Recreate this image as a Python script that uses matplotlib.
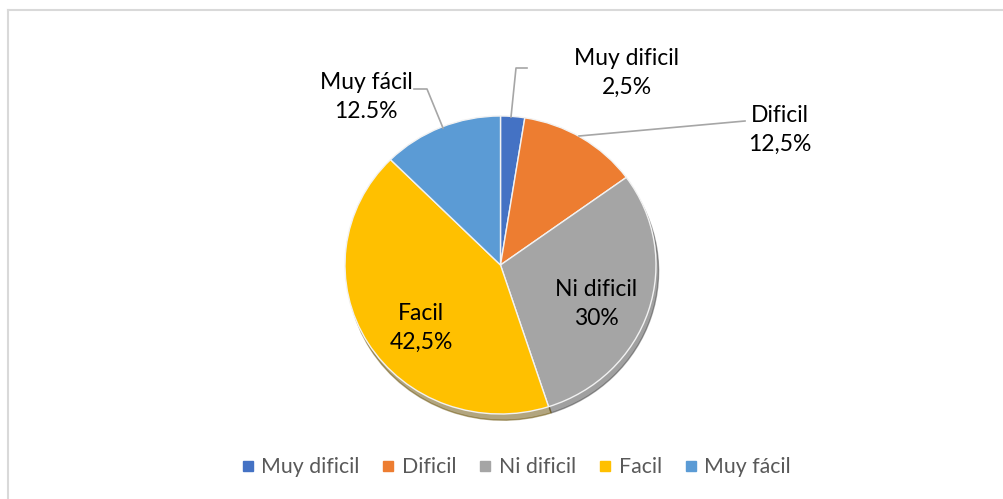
import matplotlib
matplotlib.use("Agg")
import matplotlib.pyplot as plt
from matplotlib.lines import Line2D

categories = ["Muy dificil", "Dificil", "Ni dificil", "Facil", "Muy fácil"]
values = [2.5, 12.5, 30, 42.5, 12.5]
value_labels = ["2,5%", "12,5%", "30%", "42,5%", "12.5%"]
colors = ["#4472C4", "#ED7D31", "#A5A5A5", "#FFC000", "#5B9BD5"]

plt.rcParams['font.family'] = ['Lato', 'DejaVu Sans']

W, H = 1004, 499
fig = plt.figure(figsize=(W / 100, H / 100), dpi=100)

# frame
fig.add_artist(Line2D([8 / W, 8 / W], [0, 1 - 10 / H], color="#D9D9D9", lw=1.5))
fig.add_artist(Line2D([8 / W, 1], [1 - 10 / H, 1 - 10 / H], color="#D9D9D9", lw=1.5))

cx, cy, rx, ry = 500.5, 265, 155.5, 149
ax = fig.add_axes([(cx - rx) / W, (H - cy - ry) / H, 2 * rx / W, 2 * ry / H])
wedges, _ = ax.pie(values, colors=colors, startangle=90, counterclock=False,
                   radius=1, wedgeprops=dict(edgecolor="#F2F2F2", linewidth=1),
                   shadow=dict(ox=0.012, oy=-0.03, shade=0.6))
ax.set_aspect('auto')
ax.set_xlim(-1, 1)
ax.set_ylim(-1, 1)


def P(px, py):
    return ((px - cx) / rx, (cy - py) / ry)


fs = 16.5
label_pos = [(627, 73), (780, 130), (596, 304), (421, 328), (366, 97)]
for cat, vl, (px, py) in zip(categories, value_labels, label_pos):
    x, y = P(px, py)
    ax.text(x, y, cat + "\n" + vl, ha="center", va="center", fontsize=fs,
            color="#000000", linespacing=1.45, clip_on=False)

leaders = [
    [(511, 117), (516, 68), (527, 68)],
    [(579, 136), (745, 121)],
    [(443, 128), (427, 89), (414, 89)],
]
for pts in leaders:
    xs, ys = zip(*[P(*p) for p in pts])
    ax.plot(xs, ys, color="#A6A6A6", lw=1.2, clip_on=False)

handles = [Line2D([], [], marker="s", linestyle="none", markersize=7,
                  markerfacecolor=c, markeredgecolor=c) for c in colors]
fig.legend(handles, categories, loc="center", bbox_to_anchor=(514 / W, 1 - 467 / H),
           ncol=5, frameon=False, fontsize=15.3, handletextpad=0.15, columnspacing=0.85,
           labelcolor="#595959", handlelength=1.0)

fig.savefig("out.png", dpi=100)
